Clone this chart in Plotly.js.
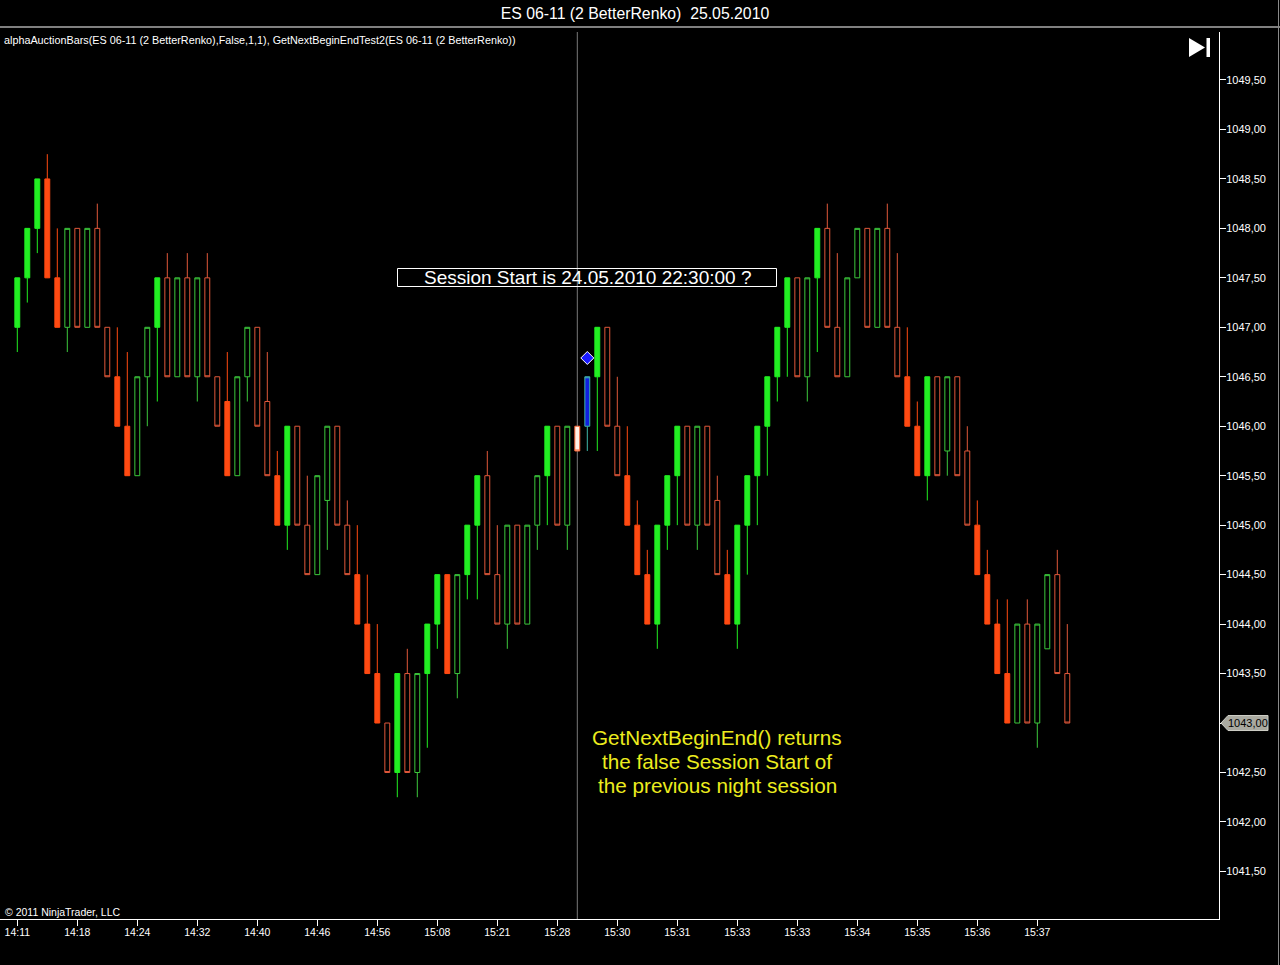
<!DOCTYPE html>
<html>
<head>
<meta charset="utf-8">
<script src="https://cdn.plot.ly/plotly-3.0.1.min.js"></script>
<style>
  html, body { margin: 0; padding: 0; background: #000; }
  #chart { width: 1280px; height: 965px; }
</style>
</head>
<body>
<div id="chart"></div>
<script>
// ---------------- data ----------------
const opens = [
  1047,1047.5,1048,1048.5,1047.5,1047,1048,1047,1048,1047,
  1046.5,1046,1045.5,1046.5,1047,1047.5,1046.5,1047.5,1046.5,1047.5,
  1046.5,1046.25,1045.5,1046.5,1047,1046.25,1045.5,1045,1046,1045,
  1044.5,1045.25,1046,1045,1044.5,1044,1043.5,1043,1042.5,1043.5,
  1042.5,1043.5,1044,1044.5,1043.5,1044.5,1045,1045.5,1044.5,1044,
  1045,1044,1045,1045.5,1046,1045,1046,1046,1046.5,1047,
  1046,1045.5,1045,1044.5,1044,1045,1045.5,1046,1045,1046,
  1045.25,1044.5,1044,1045,1045.5,1046,1046.5,1047,1047.5,1046.5,
  1047.5,1048,1047,1046.5,1047.5,1048,1047,1048,1047,1046.5,
  1046,1045.5,1046.5,1045.75,1046.5,1045.75,1045,1044.5,1044,1043.5,
  1043,1044,1043,1043.75,1044.5,1043.5
];
const closes = [
  1047.5,1048,1048.5,1047.5,1047,1048,1047,1048,1047,1046.5,
  1046,1045.5,1046.5,1047,1047.5,1046.5,1047.5,1046.5,1047.5,1046.5,
  1046,1045.5,1046.5,1047,1046,1045.5,1045,1046,1045,1044.5,
  1045.5,1046,1045,1044.5,1044,1043.5,1043,1042.5,1043.5,1042.5,
  1043.5,1044,1044.5,1043.5,1044.5,1045,1045.5,1044.5,1044,1045,
  1044,1045,1045.5,1046,1045,1046,1045.75,1046.5,1047,1046,
  1045.5,1045,1044.5,1044,1045,1045.5,1046,1045,1046,1045,
  1044.5,1044,1045,1045.5,1046,1046.5,1047,1047.5,1046.5,1047.5,
  1048,1047,1046.5,1047.5,1048,1047,1048,1047,1046.5,1046,
  1045.5,1046.5,1045.5,1046.5,1045.5,1045,1044.5,1044,1043.5,1043,
  1044,1043,1044,1044.5,1043.5,1043
];
const highs = [
  1047.5,1048,1048.5,1048.75,1048,1048,1048,1048,1048.25,1047,
  1047,1046.75,1046.5,1047,1047.5,1047.75,1047.5,1047.75,1047.5,1047.75,
  1046.5,1046.75,1046.5,1047,1047,1046.75,1045.75,1046,1046,1045.5,
  1045.5,1046,1046,1045.25,1045,1044.5,1044,1043,1043.5,1043.75,
  1043.5,1044,1044.5,1044.5,1044.5,1045,1045.5,1045.75,1045,1045,
  1045,1045,1045.5,1046,1046,1046,1046,1046.5,1047,1047,
  1046.5,1046,1045.25,1044.75,1045,1045.5,1046,1046,1046,1046,
  1045.5,1044.75,1045,1045.5,1046,1046.5,1047,1047.5,1047.5,1047.5,
  1048,1048.25,1047.75,1047.5,1048,1048,1048,1048.25,1047.75,1047,
  1046.25,1046.5,1046.5,1046.5,1046.5,1046,1045.25,1044.75,1044.25,1044.25,
  1044,1044.25,1044,1044.5,1044.75,1044
];
const lows = [
  1046.75,1047.25,1047.75,1047.5,1047,1046.75,1047,1047,1047,1046.5,
  1046,1045.5,1045.5,1046,1046.25,1046.5,1046.5,1046.5,1046.25,1046.5,
  1046,1045.5,1045.5,1046.25,1046,1045.5,1045,1044.75,1045,1044.5,
  1044.5,1044.75,1045,1044.5,1044,1043.5,1043,1042.5,1042.25,1042.5,
  1042.25,1042.75,1043.75,1043.5,1043.25,1044.25,1044.25,1044.5,1044,1043.75,
  1044,1044,1044.75,1045,1045,1044.75,1045.75,1045.75,1045.75,1046,
  1045.5,1045,1044.5,1044,1043.75,1044.75,1045,1045,1044.75,1045,
  1044.5,1044,1043.75,1044.5,1045,1045.5,1046.25,1046.5,1046.5,1046.25,
  1046.75,1047,1046.5,1046.5,1047.5,1047,1047,1047,1046.5,1046,
  1045.5,1045.25,1045.5,1045.5,1045.5,1045,1044.5,1044,1043.5,1043,
  1043,1043,1042.75,1043.75,1043.5,1043
];
// F = solid bar, H = hollow bar, A = session-start bar, B = bar after session start
const barKinds = ('FFFFF' + 'HHHHH' + 'FF' + 'HH' + 'F' + 'HHHHHH' + 'F' + 'HHHH' + 'FF' +
  'HHHHHH' + 'FFF' + 'H' + 'F' + 'HH' + 'FFF' + 'H' + 'FF' + 'HHHHHH' + 'F' + 'HH' +
  'A' + 'B' + 'F' + 'HH' + 'FFFFFF' + 'HHHH' + 'FFFFFFF' + 'HH' + 'F' + 'HHHHHHHH' +
  'FFF' + 'HHHH' + 'FFFF' + 'HHHHHH').split('');

const timeLabels = ['14:11','14:18','14:24','14:32','14:40','14:46','14:56','15:08','15:21',
  '15:28','15:30','15:31','15:33','15:33','15:34','15:35','15:36','15:37'];
const timeLabelBars = [0,6,12,18,24,30,36,42,48,54,60,66,72,78,84,90,96,102];
const priceTicks = [1041.5,1042,1042.5,1043,1043.5,1044,1044.5,1045,1045.5,1046,1046.5,
  1047,1047.5,1048,1048.5,1049,1049.5];

const sessionBar = 56;           // bar where the vertical session line is drawn
const diamondBar = 57;
const diamondPrice = 1046.69;

const titleText = 'ES 06-11 (2 BetterRenko)  25.05.2010';
const legendText = 'alphaAuctionBars(ES 06-11 (2 BetterRenko),False,1,1), GetNextBeginEndTest2(ES 06-11 (2 BetterRenko))';
const sessionText = 'Session Start is 24.05.2010 22:30:00 ?';
const noteLines = ['GetNextBeginEnd() returns', 'the false Session Start of', 'the previous night session'];
const copyrightText = '\u00a9 2011 NinjaTrader, LLC';

// ---------------- layout helpers ----------------
const PL = 0, PR = 1219, PT = 32, PB = 919;
const px = v => (v - PL) / (PR - PL);
const py = v => (PB - v) / (PB - PT);
const fmt = v => v.toFixed(2).replace('.', ',');
const FONT = 'Liberation Sans, Arial, sans-serif';

function subset(kind) {
  const idx = [];
  barKinds.forEach((k, i) => { if (k === kind) idx.push(i); });
  return {
    x: idx,
    open: idx.map(i => opens[i]),
    high: idx.map(i => highs[i]),
    low: idx.map(i => lows[i]),
    close: idx.map(i => closes[i])
  };
}

function candle(kind, upLine, upFill, dnLine, dnFill) {
  const d = subset(kind);
  return Object.assign(d, {
    type: 'candlestick',
    hoverinfo: 'none',
    showlegend: false,
    whiskerwidth: 0,
    increasing: { line: { color: upLine, width: 1 }, fillcolor: upFill },
    decreasing: { line: { color: dnLine, width: 1 }, fillcolor: dnFill }
  });
}

const traces = [
  candle('H', '#3cc83c', '#000000', '#e0583a', '#000000'),
  candle('F', '#22ee22', '#22ee22', '#ff4a12', '#ff4a12'),
  candle('A', '#ff6a3a', '#fff2e6', '#ff6a3a', '#fff2e6'),
  candle('B', '#40b8a8', '#1020e0', '#40b8a8', '#1020e0'),
  {
    type: 'scatter', mode: 'markers', x: [diamondBar], y: [diamondPrice],
    hoverinfo: 'none', showlegend: false,
    marker: { symbol: 'diamond', size: 10, color: '#1a1aff', line: { color: '#ffffff', width: 1 } }
  }
];

const lastClose = closes[closes.length - 1];
const yRange = [1041.019, 1049.985];
const priceToPx = p => PB - (p - yRange[0]) / (yRange[1] - yRange[0]) * (PB - PT);
const markY = priceToPx(lastClose);

const shapes = [
  // title separator
  { type: 'line', xref: 'paper', yref: 'paper', x0: px(0), x1: px(1280), y0: py(27), y1: py(27),
    line: { color: '#ffffff', width: 1 } },
  // session vertical line
  { type: 'line', xref: 'x', yref: 'paper', x0: sessionBar, x1: sessionBar, y0: 0, y1: 1,
    line: { color: '#7a7a7a', width: 1 }, layer: 'below' },
  // session text box
  { type: 'rect', xref: 'paper', yref: 'paper', x0: px(397.5), x1: px(776.5), y0: py(268.5), y1: py(286.5),
    line: { color: '#ffffff', width: 1 }, fillcolor: 'rgba(0,0,0,0)' },
  // go-to-end icon
  { type: 'path', xref: 'paper', yref: 'paper',
    path: `M ${px(1189)} ${py(38)} L ${px(1189)} ${py(57)} L ${px(1205)} ${py(47.5)} Z`,
    fillcolor: '#ffffff', line: { width: 0 } },
  { type: 'rect', xref: 'paper', yref: 'paper', x0: px(1206.5), x1: px(1210), y0: py(38), y1: py(57),
    fillcolor: '#ffffff', line: { width: 0 } },
  // last price marker
  { type: 'path', xref: 'paper', yref: 'paper',
    path: `M ${px(1221)} ${py(markY)} L ${px(1228)} ${py(markY - 7.5)} L ${px(1268)} ${py(markY - 7.5)} ` +
          `L ${px(1268)} ${py(markY + 7.5)} L ${px(1228)} ${py(markY + 7.5)} Z`,
    fillcolor: '#a9a9a0', line: { color: '#d0d0c8', width: 1 } },
  // grey right edge
  { type: 'line', xref: 'paper', yref: 'paper', x0: px(1278.5), x1: px(1278.5), y0: py(0), y1: py(965),
    line: { color: '#8a8a8a', width: 1 } }
];

const annotations = [
  { xref: 'paper', yref: 'paper', x: px(2), y: py(40), xanchor: 'left', yanchor: 'middle',
    text: legendText, showarrow: false, font: { family: FONT, size: 10.8, color: '#ffffff' } },
  { xref: 'paper', yref: 'paper', x: px(587), y: py(277.5), xanchor: 'center', yanchor: 'middle',
    text: sessionText, showarrow: false, font: { family: FONT, size: 19, color: '#ffffff' } },
  { xref: 'paper', yref: 'paper', x: px(3), y: py(912), xanchor: 'left', yanchor: 'middle',
    text: copyrightText, showarrow: false, font: { family: FONT, size: 10.5, color: '#ffffff' } },
  { xref: 'paper', yref: 'paper', x: px(1247.5), y: py(markY), xanchor: 'center', yanchor: 'middle',
    text: fmt(lastClose), showarrow: false, font: { family: FONT, size: 11, color: '#000000' } }
];
noteLines.forEach((t, k) => annotations.push({
  xref: 'paper', yref: 'paper', x: px(717), y: py(737 + 24 * k), xanchor: 'center', yanchor: 'middle',
  text: t, showarrow: false, font: { family: FONT, size: 20.7, color: '#ecec1e' }
}));

const layout = {
  width: 1280, height: 965,
  paper_bgcolor: '#000000', plot_bgcolor: '#000000',
  margin: { l: PL, r: 1280 - PR, t: PT, b: 965 - PB, pad: 0 },
  hovermode: false, showlegend: false, dragmode: false,
  font: { family: FONT, color: '#ffffff' },
  title: { text: titleText, x: 635 / 1280, xref: 'container', xanchor: 'center',
           y: 1 - 13 / 965, yref: 'container', yanchor: 'middle',
           font: { family: FONT, size: 15.8, color: '#ffffff' } },
  xaxis: {
    type: 'linear', range: [-1.73, 120.17], rangeslider: { visible: false },
    showgrid: false, zeroline: false, fixedrange: true,
    showline: true, linecolor: '#ffffff', linewidth: 1,
    ticks: 'outside', ticklen: 6, tickcolor: '#ffffff', tickwidth: 1,
    ticklabelstandoff: -3,
    tickmode: 'array', tickvals: timeLabelBars, ticktext: timeLabels,
    tickfont: { family: FONT, size: 10.5, color: '#ffffff' }
  },
  yaxis: {
    side: 'right', range: yRange,
    showgrid: false, zeroline: false, fixedrange: true,
    showline: true, linecolor: '#ffffff', linewidth: 1,
    ticks: 'outside', ticklen: 6, tickcolor: '#ffffff', tickwidth: 1,
    ticklabelstandoff: -2,
    tickmode: 'array', tickvals: priceTicks, ticktext: priceTicks.map(fmt),
    tickfont: { family: FONT, size: 11, color: '#ffffff' }
  },
  shapes: shapes,
  annotations: annotations
};

Plotly.newPlot('chart', traces, layout, { staticPlot: true, displayModeBar: false });
</script>
</body>
</html>
